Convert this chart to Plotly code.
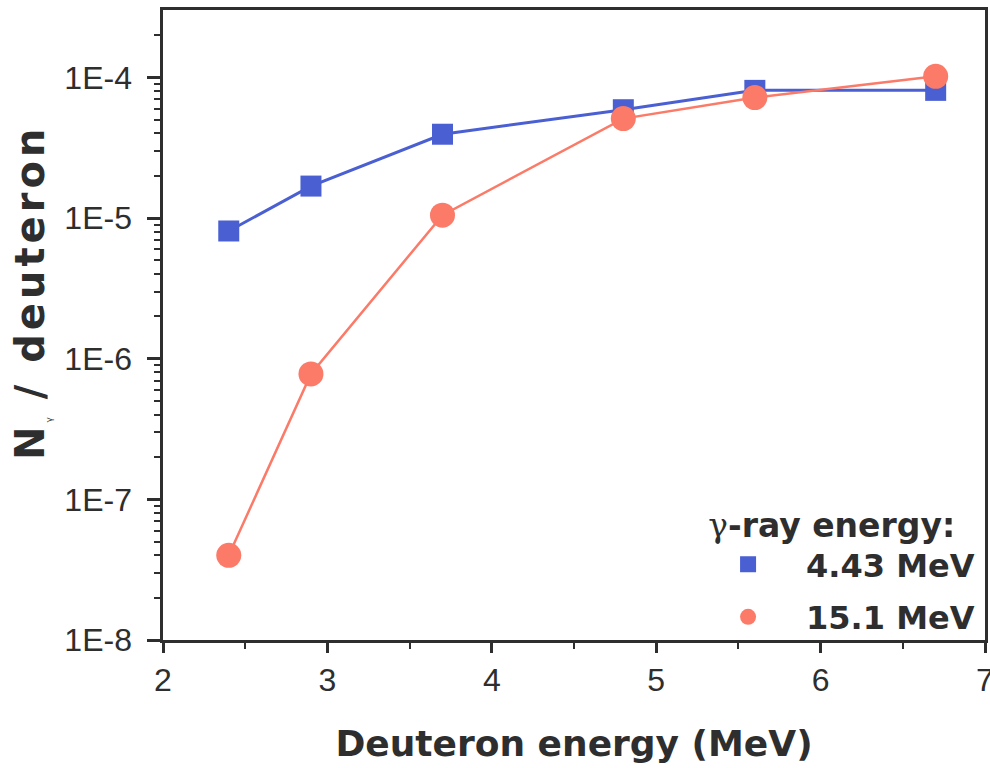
import plotly.graph_objects as go

# Data
deuteron_energy = [2.4, 2.9, 3.7, 4.8, 5.6, 6.7]
n_443 = [8.1e-6, 1.69e-5, 3.95e-5, 5.9e-5, 8.1e-5, 8.1e-5]
n_151 = [4.0e-8, 7.8e-7, 1.05e-5, 5.1e-5, 7.2e-5, 1.02e-4]
series_names = ["4.43 MeV", "15.1 MeV"]
y_tickvals = [1e-8, 1e-7, 1e-6, 1e-5, 1e-4]
y_ticktext = ["1E-8 ", "1E-7 ", "1E-6 ", "1E-5 ", "1E-4 "]
x_tickvals = [2, 3, 4, 5, 6, 7]

BLUE = "#4a5fd2"
RED = "#fb7a68"
INK = "#2e2e2e"
FONT = "Liberation Sans"
BOLD = "DejaVu Sans"

fig = go.Figure()

fig.add_trace(go.Scatter(
    x=deuteron_energy, y=n_443, mode="lines+markers",
    line=dict(color=BLUE, width=3),
    marker=dict(symbol="square", size=21, color=BLUE),
    showlegend=False,
))
fig.add_trace(go.Scatter(
    x=deuteron_energy, y=n_151, mode="lines+markers",
    line=dict(color=RED, width=2.5),
    marker=dict(symbol="circle", size=25, color=RED),
    showlegend=False,
))
# legend entries (markers only)
fig.add_trace(go.Scatter(
    x=[None], y=[None], mode="markers", name=series_names[0],
    marker=dict(symbol="square", size=16, color=BLUE), legendgroup="a",
))
fig.add_trace(go.Scatter(
    x=[None], y=[None], mode="markers", name=series_names[1],
    marker=dict(symbol="circle", size=18, color=RED), legendgroup="b",
))

# minor tick values for log axis
minor_y = []
for d in range(-8, -3):
    for m in range(2, 10):
        v = m * 10 ** d
        if v <= 3e-4:
            minor_y.append(v)

fig.update_layout(
    width=990, height=768,
    margin=dict(l=163, r=5, t=10, b=128, autoexpand=False),
    paper_bgcolor="white", plot_bgcolor="white",
    font=dict(family=FONT, color=INK, size=26),
    xaxis=dict(
        range=[2, 7], tickvals=x_tickvals, automargin=False,
        ticks="outside", ticklen=10, tickwidth=2.5, tickcolor=INK,
        minor=dict(dtick=0.5, ticks="outside", ticklen=6, tickwidth=2, tickcolor=INK),
        showline=True, linecolor=INK, linewidth=2.5, mirror=True,
        showgrid=False, zeroline=False,
        ticklabeloverflow="allow",
        tickfont=dict(size=32, family=FONT, color=INK),
        title=dict(text="<b>Deuteron energy (MeV)</b>", font=dict(size=36, family=BOLD, color=INK), standoff=34),
    ),
    yaxis=dict(
        type="log", range=[-8, -3.52], automargin=False,
        tickvals=y_tickvals, ticktext=y_ticktext,
        ticks="outside", ticklen=13, tickwidth=2.5, tickcolor=INK,
        minor=dict(tickvals=minor_y, ticks="outside", ticklen=6, tickwidth=2, tickcolor=INK),
        showline=True, linecolor=INK, linewidth=2.5, mirror=True,
        showgrid=False, zeroline=False,
        tickfont=dict(size=32, family=FONT, color=INK),
    ),
    legend=dict(
        x=0.994, y=-0.008, xanchor="right", yanchor="bottom",
        bgcolor="rgba(0,0,0,0)",
        font=dict(size=32, family=BOLD, color=INK, weight="bold"),
        title=dict(
            text="<span style='font-family:DejaVu Serif;font-weight:normal'>γ</span>-ray energy:&nbsp;&nbsp;",
            font=dict(size=33, family=BOLD, color=INK, weight="bold"),
            side="top right",
        ),
        itemwidth=106, tracegroupgap=8,
    ),
)

fig.add_annotation(
    xref="paper", yref="paper", x=-0.162, y=0.552,
    text="<b><span style='letter-spacing:4px'>N</span><sub><span style='font-size:9px;font-weight:normal'>γ</span></sub>"
         "<span style='letter-spacing:4px'> / deuteron</span></b>",
    textangle=-90, showarrow=False,
    font=dict(size=40, family=BOLD, color=INK),
    xanchor="center", yanchor="middle",
)

fig.write_html("out.html")
